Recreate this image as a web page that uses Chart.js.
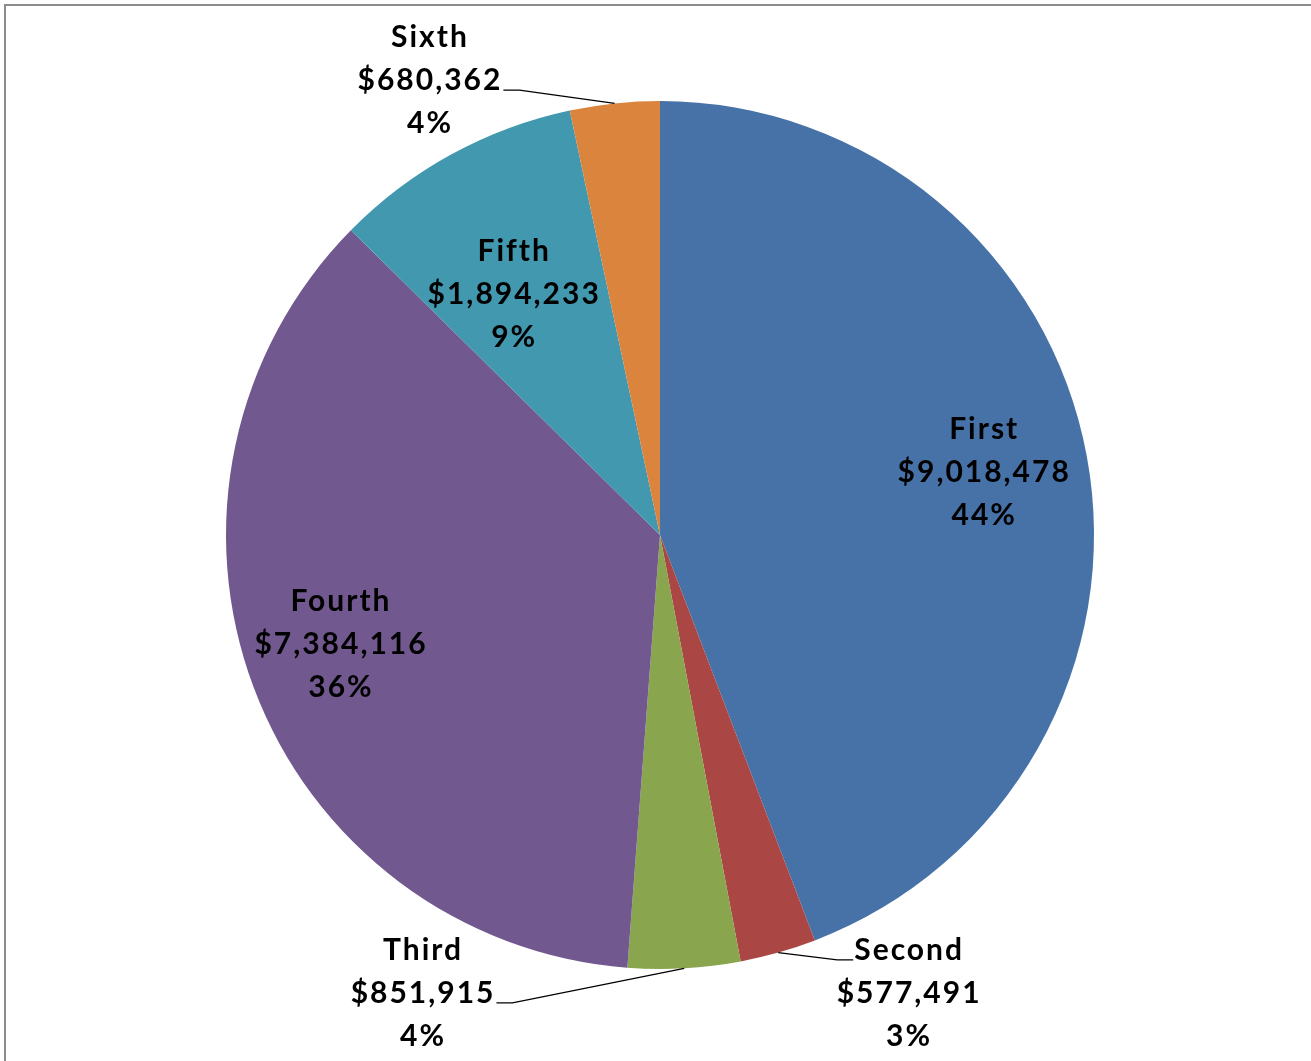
<!DOCTYPE html>
<html lang="en">
  <head>
    <meta charset="utf-8" />
    <title>Pie chart</title>
    <style>
      * {
        margin: 0;
        padding: 0;
      }
      body {
        background: white;
        overflow: hidden;
      }
      .frame {
        position: absolute;
        left: 4px;
        top: 4px;
        width: 1400px;
        height: 1200px;
        border-top: 2px solid #8c8c8c;
        border-left: 2px solid #8c8c8c;
      }
      .chartBox {
        position: absolute;
        left: 0;
        top: 0;
        width: 1311px;
        height: 1061px;
      }
    </style>
  </head>
  <body>
    <div class="frame"></div>
    <div class="chartBox">
      <canvas id="myChart"></canvas>
    </div>

    <script src="https://cdn.jsdelivr.net/npm/chart.js@4.4.1/dist/chart.umd.min.js"></script>

    <script>
      const categories = ["First", "Second", "Third", "Fourth", "Fifth", "Sixth"];
      const amounts = [9018478, 577491, 851915, 7384116, 1894233, 680362];
      const sliceColors = ["#4672A8", "#AA4643", "#89A54E", "#71588F", "#4198AF", "#DB843D"];

      // where each label sits, relative to the pie centre, in units of the radius
      const labelOffsets = [
        [0.747, -0.145],
        [0.574, 1.055],
        [-0.546, 1.055],
        [-0.735, 0.253],
        [-0.336, -0.555],
        [-0.53, -1.048],
      ];
      // leader lines for the labels placed outside the pie
      const leaders = [
        null,
        { line: 0, side: "left" },
        { line: 1, side: "right" },
        null,
        null,
        { line: 1, side: "right" },
      ];

      // percentages rounded like Excel does (largest remainder, sums to 100)
      function roundedPercents(values) {
        const total = values.reduce((a, b) => a + b, 0);
        const raw = values.map((v) => (v / total) * 100);
        const out = raw.map(Math.floor);
        let left = 100 - out.reduce((a, b) => a + b, 0);
        const order = raw
          .map((r, i) => [r - Math.floor(r), i])
          .sort((a, b) => b[0] - a[0]);
        for (let k = 0; k < left; k++) out[order[k][1]] += 1;
        return out;
      }
      const percents = roundedPercents(amounts);

      const pieLabels = {
        id: "pieLabels",
        afterDatasetsDraw(chart) {
          const { ctx } = chart;
          const arcs = chart.getDatasetMeta(0).data;
          const lineGap = 43;
          ctx.save();
          ctx.font = "bold 30px Lato, 'Open Sans', sans-serif";
          ctx.letterSpacing = "2px";
          ctx.fillStyle = "#000";
          ctx.textAlign = "center";
          ctx.textBaseline = "middle";
          ctx.strokeStyle = "#000";
          ctx.lineWidth = 1.2;
          arcs.forEach((arc, i) => {
            const r = arc.outerRadius;
            const cx = arc.x + labelOffsets[i][0] * r;
            const cy = arc.y + labelOffsets[i][1] * r;
            const lines = [
              categories[i],
              "$" + amounts[i].toLocaleString("en-US"),
              percents[i] + "%",
            ];
            lines.forEach((t, k) => {
              ctx.fillText(t, cx, cy + (k - 1) * lineGap);
            });
            const ld = leaders[i];
            if (ld) {
              const mid = (arc.startAngle + arc.endAngle) / 2;
              const sx = arc.x + Math.cos(mid) * r;
              const sy = arc.y + Math.sin(mid) * r;
              const w = ctx.measureText(lines[ld.line]).width;
              const ey = cy + (ld.line - 1) * lineGap + 10;
              const dir = ld.side === "right" ? 1 : -1;
              const ex = cx + dir * (w / 2 + 1);
              const elbow = ex + dir * 16;
              ctx.beginPath();
              ctx.moveTo(ex, ey);
              ctx.lineTo(elbow, ey);
              ctx.lineTo(sx, sy);
              ctx.stroke();
            }
          });
          ctx.restore();
        },
      };

      const data = {
        labels: categories,
        datasets: [
          {
            data: amounts,
            backgroundColor: sliceColors,
            borderWidth: 0,
          },
        ],
      };

      const config = {
        type: "pie",
        data: data,
        options: {
          responsive: true,
          maintainAspectRatio: false,
          animation: false,
          layout: {
            padding: { top: 101, bottom: 92, left: 100, right: 91 },
          },
          plugins: {
            legend: { display: false },
            tooltip: { enabled: false },
          },
        },
        plugins: [pieLabels],
      };

      const myChart = new Chart(document.getElementById("myChart"), config);
    </script>
  </body>
</html>
